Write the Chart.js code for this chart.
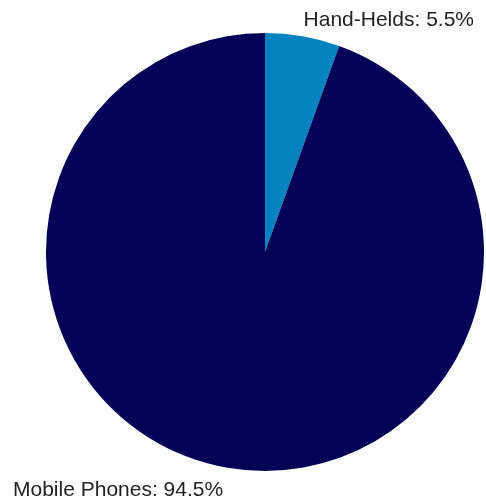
<!DOCTYPE html>
<html>
<head>
<meta charset="utf-8">
<script src="https://cdn.jsdelivr.net/npm/chart.js@4"></script>
<style>
  html, body { margin: 0; padding: 0; background: #fff; }
  #myChart { display: block; }
</style>
</head>
<body>
<canvas id="myChart" width="486" height="498"></canvas>
<script>
const categories = ["Hand-Helds", "Mobile Phones"];
const shares = [5.5, 94.5];
const sliceColors = ["#0582C0", "#020256"];

// labels sit outside the pie: first one top right, second one bottom left
const pieLabels = {
  id: 'pieLabels',
  afterDraw(chart) {
    const { ctx, chartArea: { left, right, top, bottom } } = chart;
    const labels = chart.data.labels;
    const values = chart.data.datasets[0].data;
    ctx.save();
    ctx.font = '21px "Liberation Sans", Arial, sans-serif';
    ctx.fillStyle = '#222';
    ctx.textBaseline = 'alphabetic';

    ctx.textAlign = 'right';
    ctx.fillText(`${labels[0]}: ${values[0].toFixed(1)}%`, right - 10, top - 7);

    ctx.textAlign = 'left';
    ctx.fillText(`${labels[1]}: ${values[1].toFixed(1)}%`, 13, bottom + 25);
    ctx.restore();
  }
};

const ctx = document.getElementById('myChart');

new Chart(ctx, {
  type: 'pie',
  data: {
    labels: categories,
    datasets: [
      {
        data: shares,
        backgroundColor: sliceColors,
        borderWidth: 0,
      },
    ]
  },
  options: {
    responsive: false,
    animation: false,
    layout: {
      padding: { left: 46, right: 2, top: 33, bottom: 27 }
    },
    plugins: {
      legend: { display: false },
      tooltip: { enabled: false },
    },
  },
  plugins: [pieLabels]
});
</script>
</body>
</html>
